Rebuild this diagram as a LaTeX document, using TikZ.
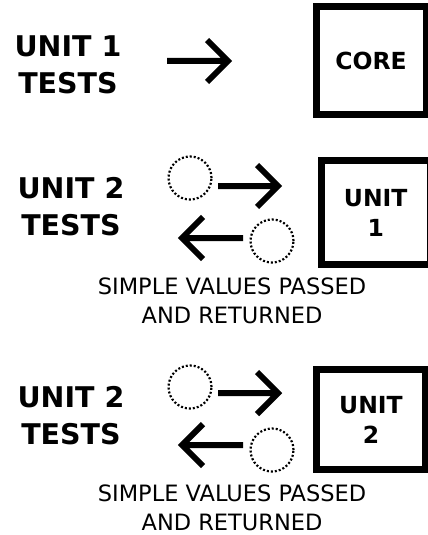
\documentclass[tikz,border=0pt]{standalone}
\usepackage{fontspec}
\setmainfont{DejaVu Sans}
\begin{document}
\begin{tikzpicture}[x=1pt,y=-1pt,
  testlabel/.style={font=\bfseries\fontsize{28.5}{37}\selectfont, align=center, inner sep=0pt},
  boxtext/.style={font=\bfseries\fontsize{23.5}{30}\selectfont, align=center},
  unitbox/.style={boxtext, draw, line width=7pt, inner sep=0pt},
  note/.style={font=\fontsize{22.5}{29.5}\selectfont, align=center, inner sep=0pt},
  value/.style={circle, draw, line width=2.2pt, dash pattern=on 2pt off 2pt,
                minimum size=43pt, inner sep=0pt},
  arrowline/.style={line width=6pt, line join=miter, line cap=butt}
]
\useasboundingbox (0,0) rectangle (428,535);
\clip (0,0) rectangle (428,535);

% --- unit 1 tests against the core ---
\node[testlabel] (t1) at (68,65) {UNIT 1\\TESTS};
\node[unitbox, minimum width=110pt, minimum height=108pt] (core) at (371,60.5) {CORE};
\coordinate (a1s) at (167,61);
\coordinate (a1e) at (228,61);
\draw[arrowline] (a1s) -- (a1e) (a1e)+(-21,-21) -- (a1e) -- +(-21,21);

% --- unit 2 tests against unit 1 ---
\node[testlabel] (t2) at (71,207) {UNIT 2\\TESTS};
\node[unitbox, minimum width=108.5pt, minimum height=104pt] (u1) at (375.75,212.5) {UNIT\\1};
\node[value] (v1) at (190,178) {};
\node[value] (v2) at (272,241) {};
\coordinate (b1s) at (218,186);
\coordinate (b1e) at (278,186);
\coordinate (b2s) at (243,238);
\coordinate (b2e) at (182,238);
\draw[arrowline] (b1s) -- (b1e) (b1e)+(-21,-21) -- (b1e) -- +(-21,21);
\draw[arrowline] (b2s) -- (b2e) (b2e)+(21,-21) -- (b2e) -- +(21,21);
\node[note] (n1) at (232,301) {SIMPLE VALUES PASSED\\AND RETURNED};

% --- unit 2 tests against unit 2 ---
\node[testlabel] (t3) at (71,416) {UNIT 2\\TESTS};
\node[unitbox, minimum width=109pt, minimum height=100pt] (u2) at (371,419.5) {UNIT\\2};
\node[value] (v3) at (190,387) {};
\node[value] (v4) at (272,450) {};
\coordinate (c1s) at (218,393);
\coordinate (c1e) at (278,393);
\coordinate (c2s) at (243,445);
\coordinate (c2e) at (182,445);
\draw[arrowline] (c1s) -- (c1e) (c1e)+(-21,-21) -- (c1e) -- +(-21,21);
\draw[arrowline] (c2s) -- (c2e) (c2e)+(21,-21) -- (c2e) -- +(21,21);
\node[note] (n2) at (232,508) {SIMPLE VALUES PASSED\\AND RETURNED};
\end{tikzpicture}
\end{document}
